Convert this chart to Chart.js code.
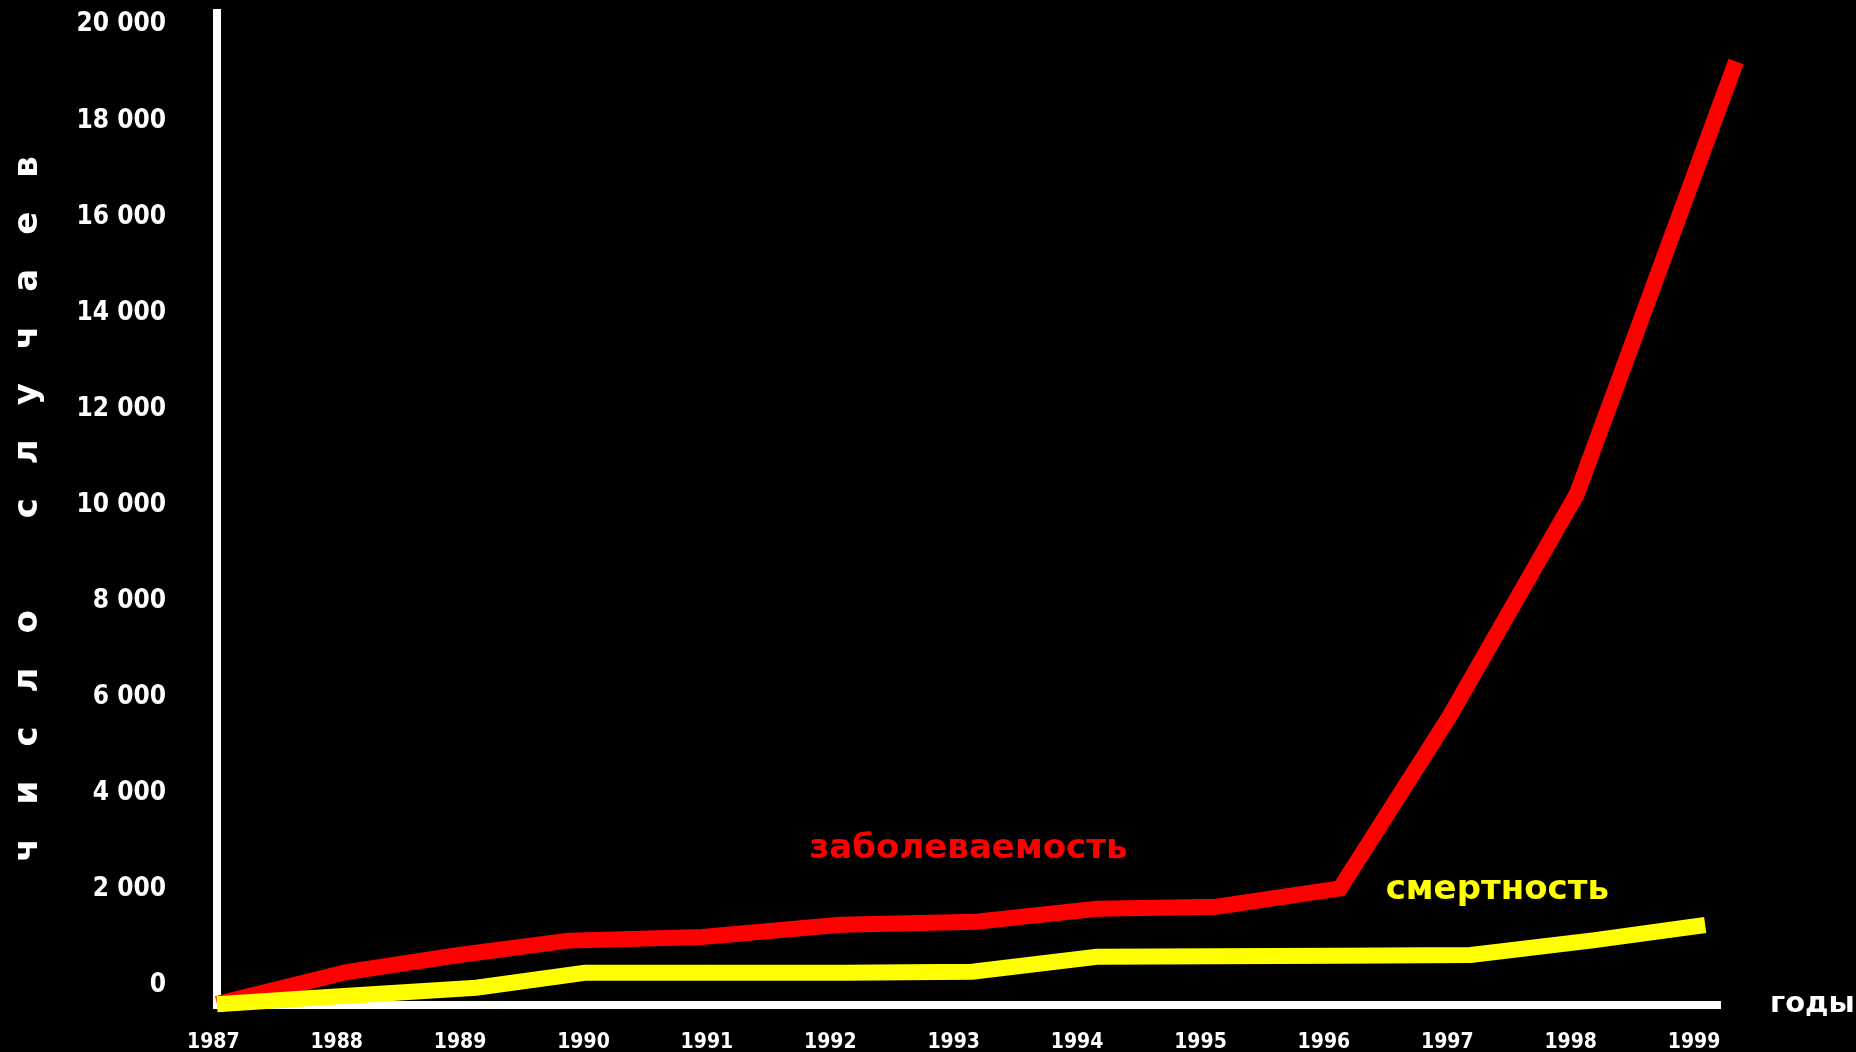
<!DOCTYPE html>
<html lang="ru">
<head>
<meta charset="utf-8">
<title>число случаев</title>
<script src="https://cdn.jsdelivr.net/npm/chart.js@4.4.1/dist/chart.umd.min.js"></script>
<style>
  html, body { margin: 0; padding: 0; background: #000; }
  canvas { display: block; }
</style>
</head>
<body>
<canvas id="chart" width="1856" height="1052"></canvas>
<script>
// годы (подписи оси X) и деления оси Y
const years = [1987, 1988, 1989, 1990, 1991, 1992, 1993, 1994, 1995, 1996, 1997, 1998, 1999];
const yTicks = [0, 2000, 4000, 6000, 8000, 10000, 12000, 14000, 16000, 18000, 20000];

// заболеваемость: положение точки по годам (как на рисунке) и число случаев
const morbidityYears = [1987.03, 1988.08, 1988.99, 1989.88, 1990.96, 1992.08, 1993.18, 1994.16, 1995.13, 1996.13, 1997.02, 1998.05, 1999.34];
const morbidity = [-465, 200, 555, 855, 930, 1186, 1249, 1519, 1561, 1940, 5530, 10150, 19150];

// смертность
const mortalityYears = [1987.03, 1987.80, 1989.13, 1990.01, 1991.06, 1992.11, 1993.15, 1994.16, 1995.13, 1996.13, 1997.19, 1998.18, 1999.09];
const mortality = [-470, -340, -125, 187, 187, 185, 208, 517, 530, 540, 555, 860, 1180];

const yTitle = 'число случаев';

function spacedTitle(text) {
    // буквы подписи разнесены, как в оригинале
    return text.split(' ').map(w => w.split('').join('\u2003')).join('\u2003\u2003\u2002\u2009');
}

function formatThousands(v) {
    return String(v).replace(/\B(?=(\d{3})+(?!\d))/g, ' ');
}

// подписи рядов и оси "годы"
const labelPlugin = {
    id: 'seriesLabels',
    afterDatasetsDraw(chart) {
        const {ctx, scales: {x, y}, chartArea} = chart;
        ctx.save();
        ctx.font = 'bold 34px "DejaVu Sans"';
        ctx.textAlign = 'center';
        ctx.textBaseline = 'alphabetic';
        ctx.fillStyle = '#ff0000';
        ctx.fillText('заболеваемость', x.getPixelForValue(1993.12), y.getPixelForValue(2574));
        ctx.fillStyle = '#ffff00';
        ctx.fillText('смертность', x.getPixelForValue(1997.405), y.getPixelForValue(1721));
        ctx.font = 'bold 29px "DejaVu Sans"';
        ctx.textAlign = 'left';
        ctx.textBaseline = 'middle';
        ctx.fillStyle = '#ffffff';
        ctx.fillText('годы', chartArea.right + 50, chartArea.bottom - 1);
        ctx.restore();
    }
};

const ctx = document.getElementById('chart').getContext('2d');
new Chart(ctx, {
    type: 'line',
    data: {
        datasets: [
            {
                label: 'смертность',
                data: mortalityYears.map((yr, i) => ({x: yr, y: mortality[i]})),
                borderColor: '#ffff00',
                borderWidth: 16,
                order: 0
            },
            {
                label: 'заболеваемость',
                data: morbidityYears.map((yr, i) => ({x: yr, y: morbidity[i]})),
                borderColor: '#ff0000',
                borderWidth: 16,
                order: 1
            }
        ]
    },
    options: {
        responsive: false,
        animation: false,
        devicePixelRatio: 1,
        layout: { padding: { top: 13, right: 136, bottom: 0, left: 0 } },
        elements: {
            point: { radius: 0, hoverRadius: 0 },
            line: { tension: 0, borderJoinStyle: 'miter', borderCapStyle: 'butt' }
        },
        datasets: { line: { clip: false } },
        plugins: {
            legend: { display: false },
            tooltip: { enabled: false }
        },
        scales: {
            x: {
                type: 'linear',
                min: 1987.03,
                max: 1999.21,
                grid: { display: false, drawTicks: false },
                border: { display: true, color: '#ffffff', width: 8 },
                afterBuildTicks: scale => { scale.ticks = years.map(v => ({value: v})); },
                afterFit: scale => {
                    scale.height = 47;
                    scale.paddingLeft = 0;
                    scale.paddingRight = 0;
                },
                ticks: {
                    color: '#ffffff',
                    font: { family: '"DejaVu Sans Condensed", "DejaVu Sans"', size: 21, weight: 'bold' },
                    padding: 25,
                    maxRotation: 0,
                    autoSkip: false,
                    callback: v => String(v)
                }
            },
            y: {
                type: 'linear',
                min: -485,
                max: 20160,
                grid: { display: false, drawTicks: false },
                border: { display: true, color: '#ffffff', width: 8 },
                afterBuildTicks: scale => { scale.ticks = yTicks.map(v => ({value: v})); },
                afterFit: scale => {
                    scale.width = 217;
                    scale.paddingTop = 0;
                    scale.paddingBottom = 0;
                },
                ticks: {
                    color: '#ffffff',
                    font: { family: '"DejaVu Sans Condensed", "DejaVu Sans"', size: 26, weight: 'bold' },
                    padding: 51,
                    labelOffset: 4,
                    callback: v => formatThousands(v)
                },
                title: {
                    display: true,
                    text: spacedTitle(yTitle),
                    color: '#ffffff',
                    font: { family: 'DejaVu Sans', size: 34, weight: 'bold' },
                    padding: { top: 8, bottom: 0 }
                }
            }
        }
    },
    plugins: [labelPlugin]
});
</script>
</body>
</html>
